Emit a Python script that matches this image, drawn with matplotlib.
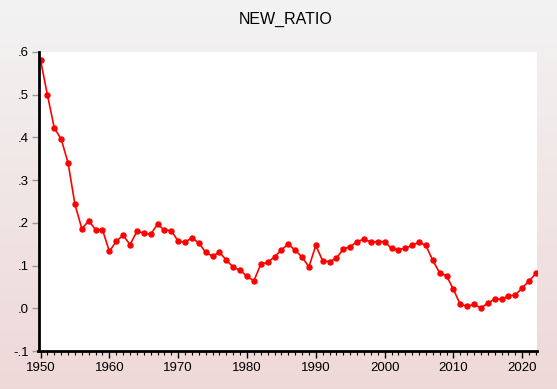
import numpy as np
import matplotlib
matplotlib.use('Agg')
import matplotlib.pyplot as plt
from matplotlib.ticker import MultipleLocator, FuncFormatter

plt.rcParams['font.family'] = ['Liberation Sans', 'DejaVu Sans']

years = np.arange(1950, 2023)
new_ratio = [0.581, 0.499, 0.422, 0.396, 0.340, 0.243, 0.186, 0.205, 0.184, 0.184,
             0.133, 0.157, 0.171, 0.149, 0.180, 0.176, 0.173, 0.197, 0.183, 0.182,
             0.157, 0.155, 0.165, 0.153, 0.131, 0.122, 0.131, 0.113, 0.096, 0.089,
             0.075, 0.064, 0.103, 0.108, 0.120, 0.137, 0.150, 0.136, 0.120, 0.097,
             0.147, 0.111, 0.109, 0.117, 0.139, 0.144, 0.156, 0.162, 0.155, 0.156,
             0.156, 0.140, 0.137, 0.141, 0.147, 0.155, 0.147, 0.112, 0.083, 0.076,
             0.044, 0.009, 0.005, 0.009, 0.001, 0.012, 0.022, 0.021, 0.029, 0.031,
             0.048, 0.064, 0.082]

fig = plt.figure(figsize=(5.57, 3.89), dpi=100)

# gradient background (light grey at top to pale pink at bottom)
bg = fig.add_axes([0, 0, 1, 1], zorder=-10)
top = np.array([0.953, 0.953, 0.953])
bot = np.array([0.937, 0.847, 0.847])
t = np.linspace(0, 1, 256)[:, None, None]
grad = top * (1 - t) + bot * t
grad = np.repeat(grad, 2, axis=1)
bg.imshow(grad, aspect='auto', extent=[0, 1, 0, 1])
bg.axis('off')

ax = fig.add_axes([38.5 / 557, 1 - 351 / 389, (536.7 - 38.5) / 557, (351 - 52) / 389])
ax.set_facecolor('white')
ax.plot(years, new_ratio, color='red', lw=1.2, marker='o', markersize=3.6)

ax.set_xlim(1949.7, 2022.1)
ax.set_ylim(-0.1, 0.6)
ax.xaxis.set_major_locator(MultipleLocator(10))
ax.xaxis.set_minor_locator(MultipleLocator(1))
ax.yaxis.set_major_locator(MultipleLocator(0.1))

def yfmt(v, pos):
    s = '%.1f' % v
    s = s.replace('0.', '.')
    return s
ax.yaxis.set_major_formatter(FuncFormatter(yfmt))

for s in ['top', 'right']:
    ax.spines[s].set_visible(False)
for s in ['left', 'bottom']:
    ax.spines[s].set_linewidth(2)
    ax.spines[s].set_color('black')

ax.tick_params(axis='y', length=5, width=1, color='#999999', labelsize=9.5, pad=2)
ax.tick_params(axis='x', which='major', length=5, width=1, labelsize=9.5, pad=3)
ax.tick_params(axis='x', which='minor', length=3, width=0.8)

fig.text(286 / 557, 1 - 19 / 389, 'NEW_RATIO', ha='center', va='center', fontsize=11.5)

fig.savefig('out.png', dpi=100)
